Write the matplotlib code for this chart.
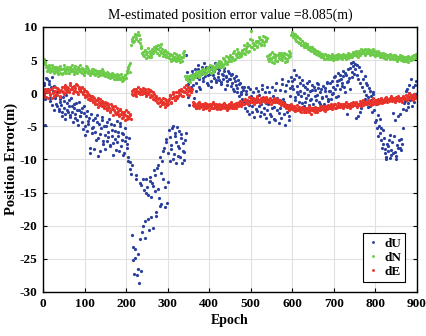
import matplotlib
matplotlib.use("Agg")
import matplotlib.pyplot as plt
import numpy as np

# two interleaved samplings of the epochs (every 3 epochs, offset by 1.5)
epoch_a = np.arange(0, 900, 3)
epoch_b = epoch_a + 1.5

dN_a = [
    4.9, 5.2, 4.4, 4.1, 3.6, 3.9, 3.2, 3.8, 3.4, 4.0,
    3.3, 3.7, 2.9, 3.5, 4.1, 3.6, 3.1, 3.8, 3.4, 3.9,
    3.5, 3.0, 3.7, 4.2, 3.4, 3.8, 3.2, 3.6, 4.0, 3.3,
    3.7, 3.1, 3.5, 2.8, 3.4, 3.9, 3.0, 3.3, 2.7, 3.6,
    3.2, 2.9, 3.5, 3.0, 2.6, 3.3, 2.9, 3.6, 2.8, 3.1,
    2.7, 3.2, 2.5, 2.9, 2.4, 3.0, 2.6, 2.2, 2.8, 2.4,
    2.1, 2.7, 2.3, 1.9, 2.5, 2.2, 2.8, 3.4, 3.9, 4.3,
    4.6, 7.8, 8.5, 7.9, 8.8, 8.2, 9.3, 8.7, 7.6, 6.8,
    6.2, 5.6, 6.5, 5.9, 6.8, 5.4, 6.1, 5.7, 6.4, 6.9,
    6.3, 7.1, 6.6, 5.8, 6.9, 7.4, 6.2, 5.9, 6.5, 5.5,
    6.0, 5.3, 5.7, 4.9, 5.4, 6.1, 5.2, 4.8, 5.6, 5.1,
    4.7, 5.5, 6.0, 5.8, 2.6, 2.1, 1.9, 2.5, 1.7, 2.8,
    2.2, 2.9, 2.4, 3.1, 2.6, 3.4, 2.8, 3.0, 3.6, 2.9,
    3.5, 3.1, 3.9, 3.3, 4.2, 3.6, 3.2, 4.0, 3.7, 4.4,
    4.1, 4.8, 3.9, 4.6, 5.3, 4.4, 4.9, 5.6, 4.7, 5.2,
    5.8, 4.9, 5.5, 6.3, 5.1, 5.9, 6.6, 5.4, 6.1, 5.7,
    6.5, 7.2, 5.9, 6.8, 7.5, 6.3, 8.1, 9.4, 7.0, 6.6,
    7.3, 7.9, 6.9, 7.6, 8.2, 7.4, 8.0, 7.7, 8.4, 7.8,
    5.6, 4.8, 5.9, 5.1, 6.2, 4.6, 5.4, 5.8, 4.9, 5.3,
    5.7, 6.1, 5.0, 5.5, 4.7, 5.9, 5.2, 6.3, 5.6, 8.8,
    9.2, 8.6, 8.9, 7.9, 8.4, 7.6, 8.1, 7.3, 7.8, 7.0,
    7.5, 6.9, 7.2, 6.6, 7.0, 6.4, 6.8, 6.1, 6.5, 5.9,
    6.3, 5.7, 6.0, 5.4, 5.9, 5.6, 5.2, 5.8, 5.5, 5.1,
    5.6, 5.3, 5.9, 5.0, 5.5, 5.7, 5.2, 5.8, 5.4, 5.6,
    5.3, 5.9, 5.5, 5.1, 5.7, 6.0, 5.4, 5.8, 5.6, 6.1,
    5.7, 6.3, 5.9, 5.5, 6.2, 6.6, 6.0, 6.4, 5.8, 6.5,
    6.1, 6.7, 5.8, 6.3, 5.9, 6.2, 5.6, 6.0, 5.7, 6.3,
    5.5, 5.9, 5.4, 6.0, 5.6, 5.2, 5.8, 5.5, 5.9, 5.3,
    5.6, 5.1, 5.7, 5.4, 4.9, 5.5, 5.2, 5.0, 5.6, 5.3,
    4.8, 5.4, 5.1, 4.7, 5.3, 5.0, 5.6, 5.2, 5.8, 5.5,
]
dN_b = [
    4.5, 4.7, 3.9, 3.4, 4.2, 3.3, 3.7, 4.3, 3.0, 3.6,
    3.9, 3.2, 4.0, 3.1, 3.6, 2.9, 4.3, 3.5, 3.0, 3.7,
    3.1, 3.9, 3.3, 3.6, 2.9, 4.1, 3.5, 3.0, 3.7, 4.3,
    3.2, 3.8, 3.0, 3.6, 4.1, 3.2, 3.6, 2.9, 3.4, 3.0,
    3.7, 2.7, 3.1, 3.4, 3.0, 2.7, 3.4, 3.0, 3.3, 2.6,
    3.1, 2.6, 3.0, 2.3, 2.8, 2.5, 2.9, 2.6, 2.1, 2.9,
    2.5, 2.2, 2.9, 2.4, 2.0, 2.7, 2.3, 3.0, 3.6, 3.2,
    7.3, 8.2, 7.7, 9.0, 8.3, 8.8, 7.9, 8.1, 7.1, 6.0,
    5.8, 6.4, 5.3, 6.2, 5.6, 6.3, 5.5, 6.7, 6.0, 6.5,
    6.8, 6.0, 7.3, 6.4, 6.1, 6.7, 5.6, 6.3, 5.8, 6.2,
    5.4, 5.9, 5.1, 5.8, 5.0, 5.5, 5.9, 5.3, 5.0, 5.8,
    5.3, 4.9, 5.4, 6.3, 2.2, 2.6, 2.3, 1.8, 2.4, 2.1,
    2.7, 2.4, 3.2, 2.7, 3.0, 2.5, 3.3, 3.7, 3.1, 3.5,
    3.0, 3.8, 3.4, 3.6, 3.1, 4.1, 3.8, 3.5, 4.1, 3.9,
    4.5, 4.3, 4.7, 4.2, 4.0, 5.1, 4.6, 4.4, 5.4, 4.9,
    5.4, 5.3, 6.0, 5.0, 5.7, 5.4, 6.2, 5.9, 5.6, 6.4,
    6.1, 6.7, 6.4, 7.1, 6.2, 7.3, 7.0, 8.0, 7.6, 7.2,
    7.7, 7.1, 7.9, 8.5, 7.2, 7.8, 8.6, 7.3, 8.0, 8.3,
    5.1, 5.7, 5.3, 4.7, 5.5, 5.9, 5.0, 4.9, 5.7, 6.0,
    5.2, 5.4, 5.8, 6.0, 5.3, 4.9, 5.7, 5.5, 6.0, 9.1,
    8.4, 9.0, 8.2, 8.6, 7.7, 8.3, 7.5, 7.9, 7.2, 7.6,
    7.1, 7.4, 6.7, 7.0, 6.5, 6.9, 6.3, 6.6, 6.2, 6.4,
    5.9, 6.2, 5.6, 5.8, 5.5, 5.2, 5.9, 5.4, 5.7, 5.6,
    5.2, 5.8, 5.5, 5.6, 5.1, 5.4, 5.9, 5.3, 5.7, 5.2,
    5.7, 5.4, 5.8, 5.6, 5.3, 5.6, 5.9, 5.5, 6.2, 5.8,
    6.2, 5.6, 6.1, 6.4, 5.8, 6.1, 6.5, 6.1, 6.7, 6.0,
    6.4, 6.0, 6.5, 6.1, 6.6, 5.8, 6.3, 5.9, 6.2, 5.7,
    6.0, 5.6, 5.8, 5.3, 5.9, 5.7, 5.4, 5.8, 5.2, 5.7,
    5.3, 5.8, 5.2, 5.6, 5.1, 5.4, 5.7, 5.3, 4.9, 5.5,
    5.2, 4.9, 5.6, 5.3, 5.0, 5.4, 5.1, 5.7, 5.3, 5.9,
]

dE_a = [
    0.3, -0.4, 0.6, 0.1, -0.8, 0.5, -0.2, 0.8, 0.0, -0.5,
    0.4, -0.3, 0.7, 0.2, -0.6, 0.9, 0.1, -0.2, 1.2, 0.5,
    0.8, 0.2, 1.5, 0.6, 0.0, 1.1, 0.4, 1.3, -0.1, 0.7,
    0.3, 0.9, -0.2, 0.4, -0.6, 0.1, -0.9, -0.3, -1.1, -0.5,
    -1.4, -0.8, -1.7, -1.0, -2.1, -1.3, -0.9, -1.9, -1.5, -2.3,
    -1.8, -2.6, -1.6, -2.2, -2.9, -2.0, -3.3, -2.5, -1.9, -3.0,
    -2.7, -3.5, -2.4, -3.8, -3.1, -2.8, -4.0, -3.4, -2.9, -3.7,
    -3.2, 0.4, -0.3, 0.7, 0.1, -0.5, 0.9, 0.2, -0.2, 0.5,
    0.8, 0.0, 0.4, -0.4, 0.6, 0.1, -0.6, 0.3, -0.9, -0.2,
    -1.1, -0.5, -1.5, -0.8, -1.9, -1.2, -0.7, -1.6, -2.1, -1.0,
    -1.7, -0.9, -0.3, -1.3, 0.2, -0.6, -1.0, 0.1, -0.4, 0.5,
    -0.2, 0.6, -0.5, 0.9, 0.1, 1.3, 0.4, -0.3, 0.8, 0.2,
    -1.4, -2.0, -1.6, -2.3, -1.8, -1.3, -2.1, -1.7, -2.4, -1.9,
    -1.5, -2.2, -1.8, -2.5, -1.6, -2.0, -1.4, -2.3, -1.9, -1.7,
    -2.1, -1.6, -2.4, -1.8, -2.0, -1.5, -2.2, -1.9, -2.6, -1.7,
    -2.0, -1.4, -2.3, -1.6, -1.9, -2.2, -1.5, -1.8, -1.2, -2.0,
    -1.3, -1.7, -0.9, -1.5, -1.1, -0.6, -1.4, -0.8, -1.2, -1.6,
    -0.9, -1.3, -0.5, -1.1, -1.5, -0.7, -1.2, -0.9, -1.4, -0.6,
    -1.0, -1.3, -0.8, -1.6, -1.1, -0.7, -1.4, -1.2, -0.9, -1.5,
    -1.1, -1.8, -1.3, -2.0, -1.6, -2.3, -1.9, -2.5, -2.1, -1.7,
    -2.4, -2.0, -2.7, -2.2, -1.8, -2.6, -2.3, -2.9, -2.1, -2.5,
    -2.2, -2.8, -2.4, -2.0, -2.6, -3.1, -2.3, -2.7, -2.1, -2.5,
    -2.8, -2.2, -2.5, -1.9, -2.4, -2.1, -2.7, -2.0, -2.3, -1.8,
    -2.2, -1.7, -2.4, -2.0, -1.6, -2.3, -1.9, -1.5, -2.1, -1.8,
    -1.6, -2.2, -1.8, -1.4, -2.0, -1.7, -2.3, -1.5, -1.9, -1.3,
    -1.8, -1.4, -2.1, -1.6, -1.2, -1.9, -1.5, -1.1, -1.7, -1.3,
    -1.6, -1.0, -1.4, -1.8, -1.2, -0.8, -1.5, -1.1, -1.7, -0.9,
    -1.3, -0.7, -1.5, -1.0, -1.2, -0.6, -1.4, -0.9, -1.1, -0.5,
    -1.2, -0.8, -1.4, -0.6, -1.0, -0.4, -1.1, -0.7, -1.3, -0.5,
    -0.9, -0.3, -1.1, -0.6, 0.0, -0.8, -0.4, -1.0, -0.2, -0.6,
]
dE_b = [
    -0.1, 0.4, -0.6, 0.7, 0.2, -0.3, 0.6, -0.7, 0.4, 0.9,
    -0.1, 0.8, 0.1, -0.4, 0.5, 0.3, 0.9, 0.6, 0.2, 1.0,
    0.4, 1.2, 0.7, 1.0, 0.3, 0.8, 1.4, 0.2, 0.9, 0.5,
    0.8, 0.1, 0.6, -0.3, 0.3, -0.5, -0.1, -0.8, -0.4, -1.0,
    -0.6, -1.2, -1.1, -1.6, -0.7, -1.8, -1.5, -1.2, -2.0, -1.4,
    -2.2, -1.5, -2.0, -2.7, -1.7, -2.4, -2.1, -2.8, -3.1, -2.3,
    -3.2, -2.5, -3.1, -2.9, -3.6, -3.3, -2.6, -3.9, -3.6, -3.3,
    -3.9, -0.1, 0.5, -0.2, 0.6, 0.3, 0.0, 0.6, 0.3, -0.1,
    0.3, 0.6, -0.2, 0.2, -0.1, 0.5, -0.3, -0.5, 0.1, -0.6,
    -0.7, -1.3, -0.9, -1.4, -1.1, -1.7, -1.3, -0.9, -1.5, -1.8,
    -1.2, -0.5, -1.5, -0.8, -0.2, -1.1, -0.5, -0.8, 0.2, -0.3,
    0.3, -0.4, 0.4, 0.1, 0.7, -0.1, 0.9, 0.5, 0.1, 0.7,
    -1.8, -1.5, -2.2, -1.9, -1.5, -2.2, -1.8, -2.0, -1.6, -2.2,
    -1.9, -1.7, -2.1, -1.8, -2.3, -1.7, -2.2, -1.6, -2.1, -2.4,
    -1.8, -2.2, -1.9, -2.3, -1.7, -2.1, -1.8, -2.3, -2.0, -2.2,
    -1.7, -2.1, -1.8, -2.2, -1.5, -1.8, -2.0, -1.4, -1.7, -1.5,
    -1.6, -1.1, -1.3, -1.0, -1.6, -1.2, -0.9, -1.3, -0.8, -1.2,
    -1.3, -0.8, -1.0, -1.4, -0.9, -1.2, -0.6, -1.1, -0.8, -1.2,
    -1.3, -0.9, -1.2, -1.0, -1.4, -1.1, -0.9, -1.3, -1.2, -1.0,
    -1.4, -1.5, -1.7, -1.5, -1.9, -2.0, -2.2, -1.8, -2.3, -2.0,
    -2.1, -2.5, -2.2, -2.6, -2.4, -2.1, -2.7, -2.4, -2.3, -2.8,
    -2.6, -2.3, -2.5, -2.8, -2.2, -2.6, -2.4, -2.2, -2.8, -2.3,
    -2.4, -2.6, -2.1, -2.3, -2.0, -2.5, -2.2, -2.4, -2.1, -2.2,
    -1.9, -2.1, -2.0, -1.7, -2.2, -1.9, -2.1, -1.8, -1.6, -2.0,
    -2.0, -1.7, -1.9, -2.1, -1.6, -1.9, -1.7, -2.0, -1.6, -1.8,
    -1.5, -1.9, -1.6, -1.8, -1.6, -1.4, -1.8, -1.5, -1.3, -1.6,
    -1.3, -1.5, -1.2, -1.4, -1.6, -1.3, -1.0, -1.4, -1.2, -1.5,
    -1.0, -1.2, -1.0, -1.3, -0.8, -1.1, -0.9, -1.2, -0.7, -1.0,
    -0.9, -1.1, -0.8, -1.0, -0.7, -1.2, -0.8, -1.0, -0.6, -0.9,
    -0.7, -0.9, -0.5, -0.8, -0.6, -0.3, -0.9, -0.5, -0.8, -0.4,
]

dU_a = [
    -0.5, 1.2, -4.8, 2.1, 0.6, 1.8, -1.2, 2.4, 0.3, -2.6,
    -0.8, -1.9, 0.4, -2.7, -1.3, -3.4, -0.6, -2.2, -3.9, -1.5,
    -2.8, -1.1, -3.6, -2.0, -4.3, -1.7, -3.1, -2.5, -4.8, -1.4,
    -3.5, -2.2, -5.4, -3.0, -6.3, -2.7, -4.6, -3.8, -9.1, -5.2,
    -4.0, -8.4, -5.8, -3.3, -9.5, -4.7, -6.1, -3.6, -7.2, -5.0,
    -8.5, -4.3, -6.6, -3.9, -7.8, -5.5, -9.3, -4.8, -6.9, -7.4,
    -5.9, -8.7, -4.5, -7.0, -6.2, -9.0, -5.3, -7.6, -10.2, -6.8,
    -11.5, -21.4, -23.2, -27.3, -24.8, -12.4, -26.6, -28.6, -22.0, -13.8,
    -20.1, -14.6, -19.3, -12.9, -15.4, -20.6, -13.2, -18.7, -14.0, -11.6,
    -12.4, -17.9, -10.8, -15.8, -9.6, -16.7, -13.0, -8.3, -17.2, -6.9,
    -13.4, -5.5, -10.3, -7.8, -4.9, -9.2, -6.4, -10.6, -8.0, -5.7,
    -9.6, -6.2, -8.7, -10.1, -7.1, 5.8, 1.4, -1.8, 2.6, 0.3,
    2.9, -0.8, 3.6, 1.5, 4.2, 2.2, 0.7, 3.3, 1.9, 4.5,
    2.6, 3.8, 1.2, 4.0, 2.9, 0.9, 3.5, 2.3, 4.6, 1.7,
    3.1, 2.0, 3.9, 1.4, 2.7, 3.4, 0.6, 2.5, 1.8, 3.0,
    2.2, 1.1, 2.9, 0.4, 1.9, 2.6, 0.8, -0.5, 1.6, 0.2,
    -0.9, 1.0, -2.3, 0.3, -1.5, -3.1, 0.6, -0.4, -2.0, -3.6,
    -1.2, 0.8, -2.7, -0.3, -3.4, -1.6, 1.3, -2.2, 0.1, -3.8,
    -2.6, -4.4, -1.0, -3.5, 0.9, -2.1, -4.1, 1.6, -0.7, -3.0,
    0.5, -3.7, 2.1, -1.4, -4.8, 1.2, -2.8, -4.0, 0.8, 2.4,
    1.8, 3.5, -0.6, 2.7, 0.2, -1.3, 1.5, -0.4, 2.0, -1.9,
    0.9, -0.7, 1.6, -1.8, 0.3, -0.9, 1.2, -2.3, 0.5, -1.1,
    -0.3, 1.4, -1.6, 0.6, -0.8, -2.0, 0.8, -0.5, 1.7, -1.2,
    0.4, -0.9, 1.9, 0.0, 2.6, -0.6, 1.3, 3.1, 0.7, 2.2,
    1.5, 3.4, 0.2, 2.8, -3.2, 1.9, 3.8, 4.5, 2.4, 4.7,
    3.6, -3.8, 4.2, 2.1, -2.9, 3.3, 0.9, -1.4, 2.6, -0.3,
    1.2, -2.1, 0.4, -1.0, -2.8, -0.2, -4.3, -1.6, -5.3, -6.4,
    -3.9, -7.1, -8.2, -5.6, -9.0, -10.0, -7.6, -8.8, -6.3, -9.4,
    -7.3, -3.0, -8.9, -10.0, -7.8, -3.5, -8.3, -6.9, -7.7, -2.4,
    -0.8, -2.6, 0.6, -1.5, 1.3, -0.3, -1.9, 0.9, -0.6, 1.8,
]
dU_b = [
    1.6, -0.9, 2.3, 0.2, 1.4, -0.7, 0.9, -1.8, 1.1, -0.4,
    -1.6, 0.1, -2.4, -0.9, -1.8, -2.9, -1.2, -3.2, -0.3, -2.6,
    -1.9, -3.3, -0.8, -2.9, -2.3, -3.8, -1.5, -4.1, -2.6, -3.4,
    -2.8, -4.4, -2.0, -4.9, -3.4, -5.7, -4.2, -8.3, -3.1, -6.0,
    -5.1, -3.8, -7.0, -4.4, -6.7, -8.8, -5.3, -4.1, -7.7, -6.3,
    -4.9, -7.2, -5.9, -8.0, -4.6, -6.4, -7.5, -5.7, -8.6, -4.2,
    -6.5, -5.0, -7.9, -6.0, -9.4, -7.2, -6.6, -8.3, -9.7, -10.4,
    -12.2, -10.9, -25.1, -23.5, -12.9, -27.5, -24.2, -13.6, -26.9, -21.0,
    -13.0, -21.8, -15.1, -14.2, -19.0, -12.7, -15.7, -13.5, -20.4, -14.8,
    -18.6, -11.3, -14.4, -17.0, -12.0, -10.2, -8.8, -14.1, -7.4, -16.6,
    -9.0, -6.6, -8.4, -5.2, -9.9, -6.0, -7.3, -5.1, -9.5, -8.3,
    -6.7, -10.5, -7.5, -8.9, -6.0, 3.2, -0.6, 2.0, 0.9, 3.4,
    1.2, 2.8, 0.4, 2.5, 3.7, 1.0, 2.9, 4.0, 2.3, 3.2,
    3.9, 1.5, 2.8, 3.6, 1.9, 4.1, 2.7, 3.3, 2.0, 3.8,
    2.4, 3.5, 1.7, 2.9, 2.1, 3.8, 2.6, 1.2, 3.3, 2.2,
    2.8, 1.5, 0.7, 2.3, 1.2, 0.1, 2.0, 1.4, -0.2, 1.0,
    0.5, -1.4, -0.2, -2.7, 0.9, -1.8, -0.6, -2.9, 0.2, -1.1,
    -2.4, -0.7, 0.4, -1.9, -2.9, 0.6, -0.9, -3.1, -1.5, 0.9,
    -1.7, 0.2, -3.2, -2.3, -0.4, -3.9, 0.5, -2.5, -1.3, -4.5,
    -2.2, 1.4, -0.9, -3.2, 0.3, -1.8, 1.9, -3.5, -0.5, 1.1,
    0.6, 2.2, -1.0, 1.1, -0.2, 2.5, 0.4, -1.5, 1.3, 0.0,
    -1.4, 0.7, -0.3, 1.9, -1.0, 0.5, -1.6, 0.9, -0.4, 1.5,
    0.8, -1.3, 0.2, -0.6, 1.1, -1.7, 0.4, 1.5, -0.9, 0.3,
    1.6, -0.2, 1.0, 2.4, 0.6, 1.8, -0.4, 2.0, 2.8, 1.1,
    2.6, 0.9, 3.1, 1.7, 3.6, 2.3, 0.6, 3.2, 4.1, 2.9,
    4.4, 2.7, -3.4, 3.9, 1.6, -2.2, 2.2, 0.3, -0.9, 1.5,
    -0.6, 0.8, -1.9, -0.4, 0.2, -2.5, -1.2, -4.0, -3.3, -4.9,
    -6.0, -5.2, -7.7, -6.8, -8.5, -9.6, -8.0, -7.0, -9.8, -8.6,
    -9.1, -6.5, -4.0, -9.5, -8.2, -7.1, -3.1, -8.6, -5.2, -1.5,
    -1.2, 0.3, -2.1, 0.0, -1.0, 2.1, -0.7, -1.4, 1.2, -0.1,
]

epoch = np.concatenate([epoch_a, epoch_b])
dU = np.concatenate([dU_a, dU_b])
dN = np.concatenate([dN_a, dN_b])
dE = np.concatenate([dE_a, dE_b])

plt.rcParams["font.family"] = ["Liberation Serif", "DejaVu Serif"]
plt.rcParams["axes.unicode_minus"] = False

fig = plt.figure(figsize=(4.27, 3.36), dpi=100)
ax = fig.add_axes([0.1007, 0.131, 0.8758, 0.789])

ax.plot(epoch, dU, "o", ms=2.3, mew=0, color="#2a3f9e", label="dU")
ax.plot(epoch, dN, "o", ms=2.3, mew=0, color="#6ccc4a", label="dN")
ax.plot(epoch, dE, "o", ms=2.3, mew=0, color="#e8332a", label="dE")

ax.set_xlim(0, 900)
ax.set_ylim(-30, 10)
ax.set_xticks(range(0, 901, 100))
ax.set_yticks(range(-30, 11, 5))
ax.grid(True, color="#e0e0e0", linewidth=0.8)
ax.set_axisbelow(True)
ax.tick_params(direction="in", top=True, right=True, length=3, width=0.8,
               labelsize=9.5, pad=4)
for lab in ax.get_xticklabels() + ax.get_yticklabels():
    lab.set_fontweight("bold")
for sp in ax.spines.values():
    sp.set_linewidth(1.0)

ax.set_xlabel("Epoch", fontsize=10, fontweight="bold", labelpad=3)
ax.set_ylabel("Position Error(m)", fontsize=10.5, fontweight="bold", labelpad=1)
ax.set_title("M-estimated position error value =8.085(m)", fontsize=10, pad=6)

leg = ax.legend(loc="lower right", bbox_to_anchor=(0.968, 0.038), fancybox=False,
                edgecolor="black", framealpha=1, borderaxespad=0,
                handlelength=0.9, handletextpad=0.4, borderpad=0.3,
                labelspacing=0.15, prop={"weight": "bold", "size": 9.5},
                markerscale=0.9)
leg.get_frame().set_linewidth(0.8)

fig.savefig("out.png", dpi=100)
